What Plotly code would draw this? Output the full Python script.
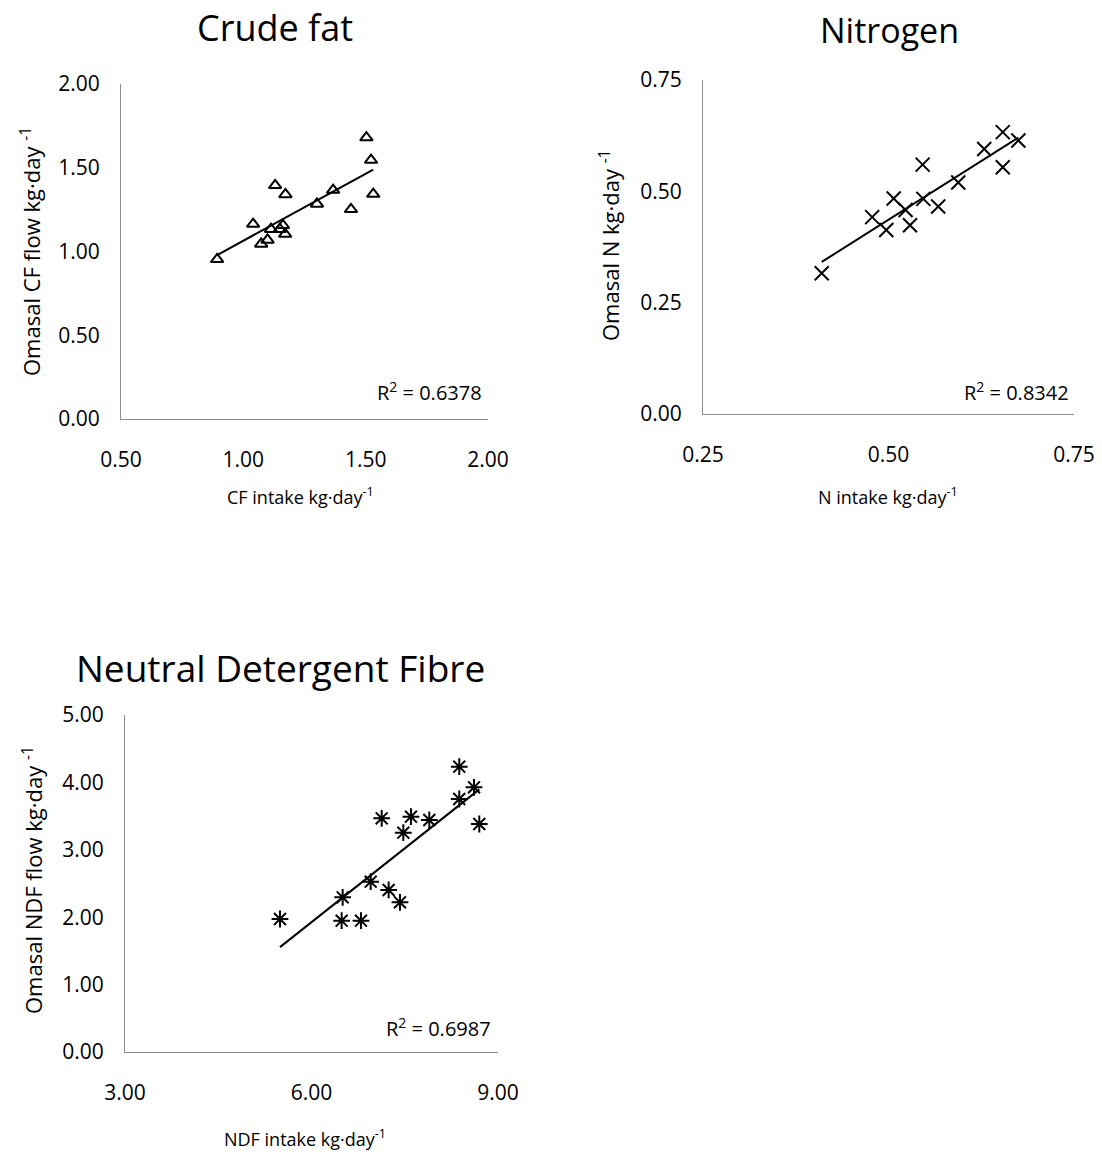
import numpy as np
import plotly.graph_objects as go

W, H = 1102, 1157

# ---- data ----
cf_intake = [0.893, 1.040, 1.073, 1.099, 1.113, 1.130, 1.149, 1.162, 1.171, 1.172,
             1.301, 1.367, 1.440, 1.503, 1.522, 1.531]
cf_flow = [0.953, 1.164, 1.045, 1.069, 1.133, 1.395, 1.133, 1.156, 1.104, 1.341,
           1.284, 1.367, 1.252, 1.680, 1.546, 1.343]

n_intake = [0.410, 0.478, 0.497, 0.507, 0.523, 0.529, 0.546, 0.547, 0.567, 0.594,
            0.629, 0.654, 0.654, 0.675]
n_flow = [0.316, 0.442, 0.413, 0.484, 0.458, 0.424, 0.560, 0.483, 0.466, 0.520,
          0.595, 0.633, 0.554, 0.614]

ndf_intake = [5.493, 6.485, 6.501, 6.796, 6.952, 7.129, 7.241, 7.423, 7.477, 7.600,
              7.895, 8.377, 8.377, 8.614, 8.699]
ndf_flow = [1.973, 1.948, 2.295, 1.948, 2.527, 3.467, 2.404, 2.221, 3.254, 3.491,
            3.442, 4.233, 3.754, 3.927, 3.383]

titles = ["Crude fat", "Nitrogen", "Neutral Detergent Fibre"]
x_titles = ["CF intake kg·day<sup>-1</sup>", "N intake kg·day<sup>-1</sup>",
            "NDF intake kg·day<sup>-1</sup>"]
y_titles = ["Omasal CF flow kg·day <sup>-1</sup>", "Omasal N kg·day <sup>-1</sup>",
            "Omasal NDF flow kg·day <sup>-1</sup>"]
r2_labels = ["R<sup>2</sup> = 0.6378", "R<sup>2</sup> = 0.8342", "R<sup>2</sup> = 0.6987"]

x_ranges = [[0.5, 2.0], [0.25, 0.75], [3.0, 9.0]]
y_ranges = [[0.0, 2.0], [0.0, 0.75], [0.0, 5.0]]
x_ticks = [[0.5, 1.0, 1.5, 2.0], [0.25, 0.5, 0.75], [3.0, 6.0, 9.0]]
y_ticks = [[0.0, 0.5, 1.0, 1.5, 2.0], [0.0, 0.25, 0.5, 0.75], [0.0, 1.0, 2.0, 3.0, 4.0, 5.0]]
symbols = ["triangle-up-open", "x-thin-open", "asterisk-open"]
sizes = [11, 14, 14]

# ---- layout (pixel boxes of plot areas) ----
boxes = [  # left, right, top, bottom in px
    (121, 488, 84, 419),
    (703, 1074, 80, 414),
    (125, 498, 715, 1052),
]

def px(xp):
    return xp / W

def py(yp):
    return 1 - yp / H

FONT = "Open Sans"
fig = go.Figure()
datasets = [(cf_intake, cf_flow), (n_intake, n_flow), (ndf_intake, ndf_flow)]
annotations = []

for i, (xs, ys) in enumerate(datasets):
    xa = "x" if i == 0 else f"x{i+1}"
    ya = "y" if i == 0 else f"y{i+1}"
    fig.add_trace(go.Scatter(
        x=xs, y=ys, mode="markers", xaxis=xa, yaxis=ya, showlegend=False,
        marker=dict(symbol=symbols[i], size=sizes[i], color="black",
                    line=dict(color="black", width=2)),
    ))
    # linear trend line fitted to the data
    slope, intercept = np.polyfit(xs, ys, 1)
    xl = np.array([min(xs), max(xs)])
    fig.add_trace(go.Scatter(
        x=xl, y=slope * xl + intercept, mode="lines", xaxis=xa, yaxis=ya,
        showlegend=False, line=dict(color="black", width=2),
    ))
    l, r, t, b = boxes[i]
    axis_common = dict(showgrid=False, zeroline=False, showline=True, automargin=False,
                       linecolor="#8c8c8c", linewidth=1, ticks="outside",
                       tickcolor="rgba(0,0,0,0)", tickformat=".2f",
                       tickfont=dict(family=FONT, size=21, color="black"))
    fig.layout[("xaxis" if i == 0 else f"xaxis{i+1}")] = dict(
        domain=[px(l), px(r)], range=x_ranges[i], tickvals=x_ticks[i],
        anchor=ya, ticklen=22, **axis_common)
    fig.layout[("yaxis" if i == 0 else f"yaxis{i+1}")] = dict(
        domain=[py(b), py(t)], range=y_ranges[i], tickvals=y_ticks[i],
        anchor=xa, ticklen=16, **axis_common)

    # chart title
    annotations.append(dict(text=titles[i], x=px([275, 889, 280][i]), y=py([28, 30, 667][i]),
                            xref="paper", yref="paper", showarrow=False,
                            font=dict(family=FONT, size=[36, 34, 37][i], color="black"),
                            xanchor="center", yanchor="middle"))
    # x title
    annotations.append(dict(text=x_titles[i], x=px([300, 888, 305][i]), y=py([496, 496, 1138][i]),
                            xref="paper", yref="paper", showarrow=False,
                            font=dict(family=FONT, size=18, color="black"),
                            xanchor="center", yanchor="middle"))
    # y title
    annotations.append(dict(text=y_titles[i], x=px([30, 610, 32][i]), y=py([252, 246, 880][i]),
                            xref="paper", yref="paper", showarrow=False, textangle=-90,
                            font=dict(family=FONT, size=22, color="black"),
                            xanchor="center", yanchor="middle"))
    # R^2
    annotations.append(dict(text=r2_labels[i], x=px([484, 1071, 493][i]), y=py([391, 391, 1027][i]),
                            xref="paper", yref="paper", showarrow=False,
                            font=dict(family=FONT, size=20, color="black"),
                            xanchor="right", yanchor="middle"))

fig.update_layout(
    width=W, height=H, margin=dict(l=0, r=0, t=0, b=0),
    paper_bgcolor="white", plot_bgcolor="white",
    annotations=annotations,
)

fig.write_html("out.html", config={"displayModeBar": False},
               post_script="document.body.style.margin='0';document.body.style.overflow='hidden';")
